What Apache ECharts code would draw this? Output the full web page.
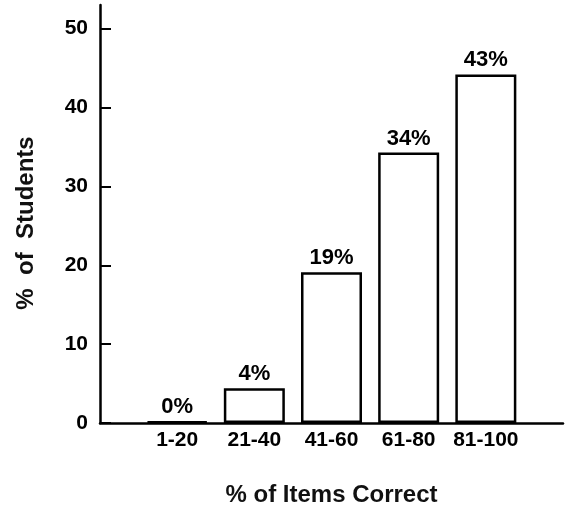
<!DOCTYPE html>
<html>
<head>
<meta charset="utf-8">
<script src="https://cdn.jsdelivr.net/npm/echarts@6/dist/echarts.min.js"></script>
<style>
  html, body { margin: 0; padding: 0; background: #fff; }
  #chart { width: 565px; height: 506px; }
</style>
</head>
<body>
<div id="chart"></div>
<script>
// score bands (% of items correct)
var categories = ["1-20", "21-40", "41-60", "61-80", "81-100"];
// bar heights as drawn
var students = [0.2, 4.4, 19.1, 34.3, 44.2];
// printed labels above bars
var barLabels = ["0%", "4%", "19%", "34%", "43%"];
var yTicks = [0, 10, 20, 30, 40, 50];

var chart = echarts.init(document.getElementById("chart"));
var font = "Liberation Sans";

chart.setOption({
  animation: false,
  grid: { left: 100, right: 2, top: 5, bottom: 83, outerBoundsMode: "none" },
  xAxis: {
    type: "value",
    min: 0,
    max: 6,
    name: "% of Items Correct",
    nameLocation: "middle",
    nameGap: 60,
    nameTextStyle: { fontFamily: font, fontSize: 24, fontWeight: "bold", color: "#111" },
    axisLine: { lineStyle: { color: "#000", width: 2.5 } },
    axisTick: { show: false },
    splitLine: { show: false },
    axisLabel: {
      customValues: [1, 2, 3, 4, 5],
      margin: 7,
      fontFamily: font,
      fontSize: 21,
      fontWeight: "bold",
      color: "#000",
      formatter: function (v) { return categories[Math.round(v) - 1]; }
    }
  },
  yAxis: {
    type: "value",
    min: 0,
    max: 53,
    name: "%  of  Students",
    nameLocation: "middle",
    nameGap: 62,
    nameTextStyle: { fontFamily: font, fontSize: 24, fontWeight: "bold", color: "#111", padding: [0, 18, 0, 0] },
    axisLine: { show: true, lineStyle: { color: "#000", width: 2.5 } },
    axisTick: {
      show: true,
      inside: true,
      length: 11,
      customValues: yTicks,
      lineStyle: { color: "#000", width: 2 }
    },
    splitLine: { show: false },
    axisLabel: {
      customValues: yTicks,
      margin: 12,
      fontFamily: font,
      fontSize: 21,
      fontWeight: "bold",
      color: "#000"
    }
  },
  series: [{
    type: "bar",
    barWidth: 61,
    data: students.map(function (v, i) { return [i + 1, v]; }),
    itemStyle: { color: "#fff", borderColor: "#000", borderWidth: 2.5 },
    label: {
      show: true,
      position: "top",
      distance: 3,
      fontFamily: font,
      fontSize: 22,
      fontWeight: "bold",
      color: "#000",
      formatter: function (p) { return barLabels[p.dataIndex]; }
    }
  }]
});
</script>
</body>
</html>
